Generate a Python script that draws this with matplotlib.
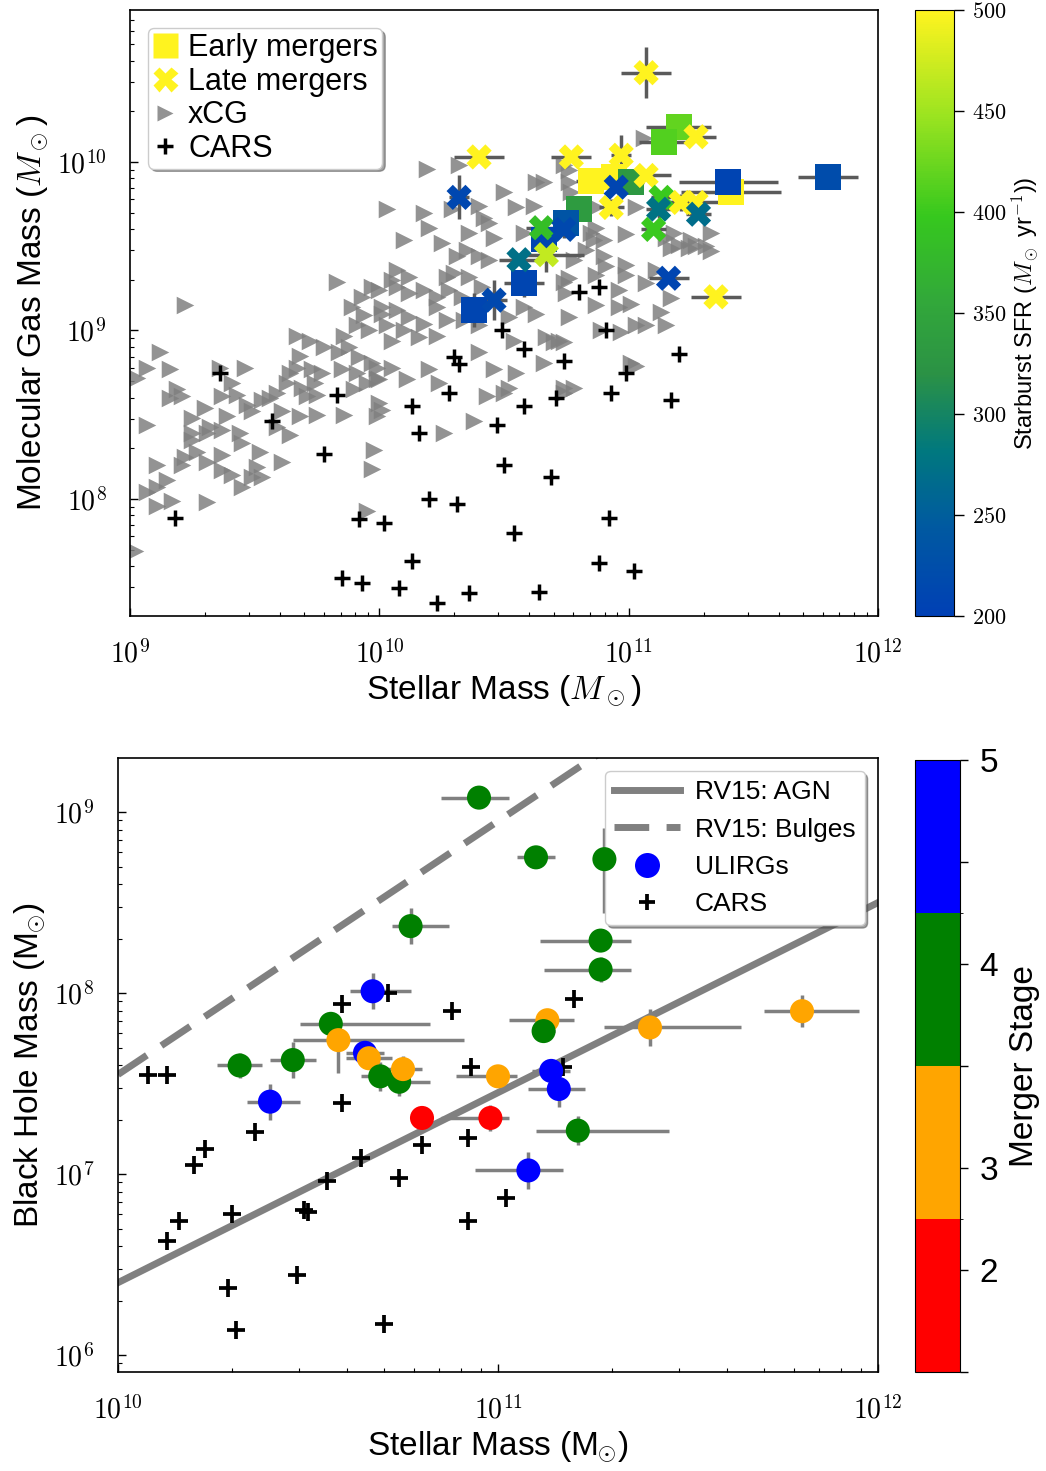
import numpy as np
import matplotlib
matplotlib.use("Agg")
import matplotlib.pyplot as plt
from matplotlib.colors import LinearSegmentedColormap, ListedColormap, BoundaryNorm, Normalize
from matplotlib.lines import Line2D
from matplotlib.ticker import FuncFormatter, LogLocator, NullFormatter

plt.rcParams['font.family'] = ['Liberation Sans', 'DejaVu Sans']
plt.rcParams['mathtext.fontset'] = 'cm'

# ---------------- top panel: molecular gas vs stellar mass (log10 values) ----------------
# xCG comparison sample
xcg_mstar = [9.22, 9.67, 9.12, 9.07, 9.16, 9.03, 9.46, 9.36, 9.41, 9.19, 9.16, 9.21, 9.37, 9.43,
             9.30, 9.47, 9.49, 9.53, 9.56, 9.59, 9.64, 9.67, 9.63, 9.69, 9.73, 9.77, 9.74, 9.71,
             9.75, 9.68, 9.75, 9.61, 9.64, 9.59, 9.84, 9.88, 9.92, 9.85, 9.91, 9.99, 9.95, 9.90,
             9.99, 10.01, 9.86, 9.91, 9.93, 9.97, 9.83, 10.01, 9.07, 9.25, 9.32, 9.39, 9.25, 9.37,
             9.31, 9.44, 9.25, 9.45, 9.22, 9.27, 9.31, 9.37, 9.37, 9.41, 9.51, 9.53, 9.49, 9.52,
             9.61, 9.45, 9.21, 9.11, 9.15, 9.07, 9.11, 9.11, 9.17, 9.31, 9.98, 9.97, 9.95, 9.02,
             10.19, 10.32, 10.03, 10.18, 10.20, 10.10, 10.25, 10.29, 10.40, 10.42, 10.44, 10.36,
             10.46, 10.35, 10.31, 10.40, 10.44, 10.50, 10.55, 10.63, 10.66, 10.62, 10.58, 10.07,
             10.12, 10.27, 10.30, 10.36, 10.41, 10.05, 10.00, 10.07, 10.12, 10.18, 10.23, 10.28,
             10.33, 10.01, 10.07, 10.12, 10.18, 10.23, 10.27, 10.10, 10.05, 10.16, 10.23, 10.34,
             10.40, 10.52, 10.58, 10.63, 10.67, 10.72, 10.75, 10.54, 9.97, 10.00, 10.05, 10.11,
             10.20, 10.24, 10.40, 10.46, 10.55, 10.52, 10.43, 10.50, 10.66, 10.70, 10.74, 10.00,
             9.99, 10.38, 10.26, 10.76, 10.76, 10.77, 10.87, 11.03, 10.87, 10.99, 10.83, 10.86,
             10.90, 10.78, 10.91, 10.99, 10.99, 11.07, 11.11, 11.15, 11.20, 11.24, 11.31, 11.33,
             11.33, 11.17, 10.74, 10.76, 10.87, 10.96, 10.96, 11.01, 10.87, 10.76, 11.13, 11.17,
             10.97, 11.03, 11.07, 11.15, 10.89, 10.74, 11.01, 11.03, 10.78, 10.74, 11.06, 10.74,
             11.27, 11.25, 11.18, 10.85, 10.90, 9.72, 9.78, 9.68, 9.94, 9.96, 9.89, 10.03, 9.86]
xcg_mgas = [9.15, 8.97, 8.87, 8.78, 8.77, 8.72, 8.78, 8.78, 8.69, 8.65, 8.60, 8.61, 8.61, 8.62,
            8.54, 8.56, 8.52, 8.59, 8.60, 8.63, 8.75, 8.78, 8.69, 8.66, 8.77, 8.75, 8.69, 8.61,
            8.62, 8.49, 8.50, 8.52, 8.38, 8.43, 8.87, 8.90, 8.84, 8.77, 8.75, 8.78, 8.69, 8.65,
            8.71, 8.53, 8.50, 9.03, 9.20, 9.26, 9.29, 9.10, 8.44, 8.48, 8.43, 8.49, 8.39, 8.41,
            8.39, 8.39, 8.35, 8.33, 8.25, 8.28, 8.22, 8.26, 8.17, 8.14, 8.19, 8.13, 8.13, 8.28,
            8.22, 8.07, 8.20, 8.20, 8.11, 8.04, 8.07, 7.96, 7.99, 7.98, 8.29, 8.18, 7.93, 7.69,
            9.96, 9.98, 9.72, 9.70, 9.61, 9.54, 9.52, 9.72, 9.74, 9.67, 9.64, 9.58,
            9.55, 9.48, 9.44, 9.44, 9.42, 9.82, 9.73, 9.88, 9.88, 9.74, 9.58, 9.36,
            9.32, 9.32, 9.34, 9.32, 9.26, 9.30, 9.24, 9.26, 9.22, 9.24, 9.20, 9.24,
            9.20, 9.14, 9.12, 9.08, 9.04, 9.14, 9.06, 9.00, 8.94, 8.96, 8.97, 9.06,
            9.03, 9.08, 9.14, 9.10, 8.96, 8.94, 9.22, 8.94, 8.81, 8.71, 8.78, 8.71,
            8.77, 8.69, 8.87, 8.77, 8.75, 8.66, 8.61, 8.63, 8.81, 8.93, 8.66, 8.57,
            8.49, 8.46, 8.39, 9.95, 9.88, 9.82, 9.73, 9.73, 9.61, 9.57, 9.48, 9.54,
            9.44, 9.42, 9.38, 9.39, 9.33, 9.28, 9.36, 9.55, 9.51, 9.49, 9.50, 9.58,
            9.47, 9.49, 9.29, 9.31, 9.33, 9.24, 9.14, 9.16, 9.15, 9.08, 9.11, 9.19,
            8.99, 9.03, 9.03, 9.03, 9.00, 8.93, 8.81, 8.79, 8.66, 8.63, 10.14, 9.98,
            9.50, 9.54, 9.58, 9.58, 9.54, 8.94, 8.90, 8.85, 9.09, 9.00, 9.14, 9.03, 8.97]

# CARS in the gas plane
cars_mstar_gas = [9.36, 9.83, 9.57, 9.78, 9.18, 10.13, 10.16, 10.28, 10.30, 10.32, 10.49, 10.58,
                  10.74, 10.91, 11.20, 10.99, 10.58, 10.71, 10.93, 11.17, 10.47, 10.50, 10.69,
                  10.20, 10.31, 9.92, 10.02, 10.54, 10.92, 10.13, 10.88, 11.02, 9.85, 9.93,
                  10.08, 10.23, 10.36, 10.64, 10.80, 10.88]
cars_mgas = [8.75, 8.62, 8.46, 8.27, 7.89, 8.55, 8.39, 8.63, 8.84, 8.80, 9.00, 8.89,
             8.82, 9.00, 8.86, 8.75, 8.55, 8.60, 8.63, 8.59, 8.44, 8.20, 8.13,
             8.00, 7.97, 7.88, 7.86, 7.80, 7.89, 7.63, 7.62, 7.57, 7.53, 7.50,
             7.47, 7.38, 7.44, 7.45, 9.23, 9.26]

# early mergers: log M*, log Mgas, SFR, x error (dex), y error (dex)
early_mstar = [11.20, 11.14, 10.85, 10.94, 11.01, 10.80, 10.75, 10.66, 10.58, 10.38, 11.41, 11.40, 11.80]
early_mgas = [10.21, 10.12, 9.89, 9.91, 9.88, 9.72, 9.64, 9.54, 9.28, 9.12, 9.82, 9.88, 9.91]
early_sfr = [420, 412, 500, 500, 330, 335, 235, 210, 210, 210, 500, 208, 222]
early_xerr = [0.13, 0.10, 0.06, 0.06, 0.05, 0.05, 0.04, 0.04, 0.08, 0.04, 0.20, 0.20, 0.12]
early_yerr = [0.03, 0.03, 0.03, 0.00, 0.05, 0.07, 0.05, 0.05, 0.08, 0.10, 0.05, 0.05, 0.06]

late_mstar = [11.07, 11.27, 10.40, 10.77, 10.97, 11.07, 10.95, 10.93, 10.32, 11.21, 11.27,
              11.13, 11.12, 11.28, 11.10, 10.65, 10.74, 10.67, 10.56, 11.16, 11.35, 10.46]
late_mgas = [10.53, 10.15, 10.03, 10.03, 10.04, 9.92, 9.85, 9.73, 9.79, 9.76, 9.76,
             9.79, 9.72, 9.69, 9.60, 9.61, 9.60, 9.45, 9.42, 9.31, 9.20, 9.18]
late_sfr = [500, 500, 500, 500, 500, 500, 210, 500, 212, 500, 500,
            400, 275, 268, 400, 385, 215, 468, 272, 210, 500, 215]
late_xerr = [0.10, 0.08, 0.10, 0.08, 0.04, 0.10, 0.03, 0.05, 0.04, 0.06, 0.10,
             0.04, 0.05, 0.05, 0.05, 0.06, 0.05, 0.15, 0.08, 0.08, 0.10, 0.05]
late_yerr = [0.15, 0.02, 0.00, 0.02, 0.12, 0.02, 0.03, 0.05, 0.13, 0.05, 0.03,
             0.03, 0.05, 0.03, 0.02, 0.04, 0.05, 0.10, 0.03, 0.02, 0.02, 0.12]

# ---------------- bottom panel: black hole vs stellar mass (log10 values) ----------------
ulirg_mstar = [10.95, 10.77, 11.10, 11.28, 11.27, 11.27, 10.56, 10.32, 10.46, 10.58,
               10.65, 10.66, 10.69, 10.74, 10.75, 11.00, 11.13, 11.12, 11.40, 11.80,
               10.67, 10.40, 11.14, 11.16, 11.08, 11.21, 10.80, 10.98]
ulirg_mbh = [9.08, 8.37, 8.75, 8.74, 8.29, 8.13, 7.83, 7.60, 7.63, 7.74,
             7.67, 7.64, 7.54, 7.51, 7.58, 7.54, 7.85, 7.79, 7.81, 7.90,
             8.01, 7.40, 7.57, 7.47, 7.02, 7.24, 7.31, 7.31]
ulirg_stage = [4, 4, 4, 4, 4, 4, 4, 4, 4, 3,
               5, 3, 4, 4, 3, 3, 3, 4, 3, 3,
               5, 5, 5, 5, 5, 4, 2, 2]
ulirg_xlo = [0.10, 0.05, 0.05, 0.01, 0.16, 0.15, 0.08, 0.06, 0.06, 0.12,
             0.05, 0.06, 0.05, 0.05, 0.05, 0.11, 0.10, 0.03, 0.12, 0.10,
             0.06, 0.06, 0.05, 0.08, 0.14, 0.11, 0.00, 0.13]
ulirg_xhi = [0.08, 0.10, 0.05, 0.01, 0.08, 0.08, 0.26, 0.06, 0.06, 0.33,
             0.05, 0.06, 0.05, 0.08, 0.05, 0.05, 0.07, 0.03, 0.24, 0.15,
             0.10, 0.08, 0.05, 0.07, 0.09, 0.24, 0.00, 0.05]
ulirg_ylo = [0.00, 0.10, 0.06, 0.30, 0.04, 0.07, 0.05, 0.07, 0.10, 0.18,
             0.05, 0.05, 0.08, 0.08, 0.07, 0.06, 0.05, 0.05, 0.10, 0.09,
             0.10, 0.10, 0.05, 0.10, 0.10, 0.08, 0.05, 0.07]
ulirg_yhi = [0.00, 0.10, 0.06, 0.17, 0.04, 0.07, 0.05, 0.07, 0.10, 0.00,
             0.05, 0.05, 0.08, 0.08, 0.07, 0.06, 0.05, 0.05, 0.10, 0.09,
             0.10, 0.10, 0.05, 0.10, 0.10, 0.08, 0.05, 0.07]

cars_mstar_bh = [10.08, 10.13, 10.20, 10.23, 10.36, 10.59, 10.64, 10.55, 10.74, 10.80, 10.92,
                 11.02, 10.92, 10.16, 10.13, 10.30, 10.49, 10.50, 10.47, 10.29, 10.31, 10.70,
                 10.59, 10.71, 10.88, 11.20, 10.93, 11.17]
cars_mbh = [7.55, 7.55, 7.05, 7.14, 7.23, 7.39, 7.09, 6.96, 6.98, 7.16, 7.20,
            6.87, 6.74, 6.74, 6.63, 6.78, 6.80, 6.79, 6.44, 6.37, 6.14, 6.17,
            7.94, 8.00, 7.90, 7.97, 7.59, 7.59]

# Reines & Volonteri (2015) scaling relations: log MBH = a + b log(M*/1e11)
rv15_agn = (7.45, 1.05)
rv15_bulge = (8.95, 1.40)


def dex_to_lin(logv, lo, hi):
    logv, lo, hi = np.asarray(logv), np.asarray(lo), np.asarray(hi)
    v = 10**logv
    return np.vstack([v - 10**(logv - lo), 10**(logv + hi) - v])


def pow_label(val, pos):
    return r'$10^{%d}$' % int(round(np.log10(val)))


def style_log_axes(ax):
    for axis in (ax.xaxis, ax.yaxis):
        axis.set_major_locator(LogLocator(base=10))
        axis.set_minor_locator(LogLocator(base=10, subs=np.arange(2, 10)))
        axis.set_major_formatter(FuncFormatter(pow_label))
        axis.set_minor_formatter(NullFormatter())
    ax.tick_params(which='both', direction='in', top=False, right=False)
    ax.tick_params(which='major', length=6, width=1, labelsize=20, pad=17)
    ax.tick_params(which='minor', length=3, width=0.8)
    for s in ax.spines.values():
        s.set_linewidth(1.2)


sfr_cmap = LinearSegmentedColormap.from_list(
    'sfr', [(0.0, '#0040b5'), (0.15, '#005aa0'), (0.27, '#00787f'), (0.40, '#2b9245'),
            (0.52, '#32a83a'), (0.66, '#36c81e'), (0.83, '#9de420'), (1.0, '#fff31f')])
sfr_norm = Normalize(200, 500)

stage_cmap = ListedColormap(['red', 'orange', 'green', 'blue'])
stage_norm = BoundaryNorm([1.5, 2.5, 3.5, 4.5, 5.5], stage_cmap.N)

fig = plt.figure(figsize=(10.46, 14.71), dpi=100)

# ---- top panel ----
ax1 = fig.add_axes([0.1243, 0.5812, 0.7151, 0.4120])
ax1.set_xscale('log')
ax1.set_yscale('log')

ax1.scatter(10**np.array(xcg_mstar), 10**np.array(xcg_mgas), marker='>', s=160,
            color='gray', alpha=0.85, linewidths=0, zorder=2)
ax1.scatter(10**np.array(cars_mstar_gas), 10**np.array(cars_mgas), marker='+', s=130,
            color='black', linewidths=2.5, zorder=3)

ax1.errorbar(10**np.array(early_mstar), 10**np.array(early_mgas),
             xerr=dex_to_lin(early_mstar, early_xerr, early_xerr),
             yerr=dex_to_lin(early_mgas, early_yerr, early_yerr),
             fmt='none', ecolor='#5a5a5a', elinewidth=2.5, zorder=4)
ax1.errorbar(10**np.array(late_mstar), 10**np.array(late_mgas),
             xerr=dex_to_lin(late_mstar, late_xerr, late_xerr),
             yerr=dex_to_lin(late_mgas, late_yerr, late_yerr),
             fmt='none', ecolor='#5a5a5a', elinewidth=2.5, zorder=4)
sc_early = ax1.scatter(10**np.array(early_mstar), 10**np.array(early_mgas), marker='s', s=350,
                       c=early_sfr, cmap=sfr_cmap, norm=sfr_norm, linewidths=0, zorder=5)
ax1.scatter(10**np.array(late_mstar), 10**np.array(late_mgas), marker='X', s=330,
            c=late_sfr, cmap=sfr_cmap, norm=sfr_norm, linewidths=0, zorder=6)

ax1.set_xlim(1e9, 1e12)
ax1.set_ylim(2.02e7, 7.98e10)
style_log_axes(ax1)
ax1.set_xlabel(r'Stellar Mass ($M_\odot$)', fontsize=24)
ax1.set_ylabel(r'Molecular Gas Mass ($M_\odot$)', fontsize=24)

yellow = sfr_cmap(1.0)
handles_top = [
    Line2D([], [], ls='none', marker='s', ms=18, mfc=yellow, mec='none', label='Early mergers'),
    Line2D([], [], ls='none', marker='X', ms=18, mfc=yellow, mec='none', label='Late mergers'),
    Line2D([], [], ls='none', marker='>', ms=11, mfc='gray', mec='none', alpha=0.85, label='xCG'),
    Line2D([], [], ls='none', marker='+', ms=11, mec='black', mew=2.5, label='CARS'),
]
ax1.legend(handles=handles_top, loc='upper left', fontsize=22, shadow=True, fancybox=True,
           handletextpad=0.35, labelspacing=0.12, borderpad=0.15, handlelength=0.8,
           borderaxespad=0.6, framealpha=1)

cax1 = fig.add_axes([0.8748, 0.5812, 0.0373, 0.4120])
cb1 = fig.colorbar(sc_early, cax=cax1)
cb1.set_ticks([200, 250, 300, 350, 400, 450, 500])
cb1.set_ticklabels([r'$%d$' % v for v in [200, 250, 300, 350, 400, 450, 500]])
cb1.ax.tick_params(labelsize=16, length=7, width=1, pad=6)
cb1.set_label(r'Starburst SFR ($M_\odot$ yr$^{-1}$))', fontsize=17, labelpad=2)

# ---- bottom panel ----
ax2 = fig.add_axes([0.1128, 0.0673, 0.7266, 0.4174])
ax2.set_xscale('log')
ax2.set_yscale('log')

mgrid = np.logspace(10, 12, 200)
ax2.plot(mgrid, 10**(rv15_agn[0] + rv15_agn[1] * np.log10(mgrid / 1e11)),
         color='gray', lw=5, zorder=2, label='RV15: AGN')
ax2.plot(mgrid, 10**(rv15_bulge[0] + rv15_bulge[1] * np.log10(mgrid / 1e11)),
         color='gray', lw=5, ls=(0, (5, 2.5)), zorder=2, label='RV15: Bulges')

ax2.errorbar(10**np.array(ulirg_mstar), 10**np.array(ulirg_mbh),
             xerr=dex_to_lin(ulirg_mstar, ulirg_xlo, ulirg_xhi),
             yerr=dex_to_lin(ulirg_mbh, ulirg_ylo, ulirg_yhi),
             fmt='none', ecolor='gray', elinewidth=2.5, zorder=3)
ax2.scatter(10**np.array(cars_mstar_bh), 10**np.array(cars_mbh), marker='+', s=150,
            color='black', linewidths=2.7, zorder=4, label='CARS')
# circles sit above the legend box
sc_stage = ax2.scatter(10**np.array(ulirg_mstar), 10**np.array(ulirg_mbh), marker='o', s=300,
                       c=ulirg_stage, cmap=stage_cmap, norm=stage_norm, linewidths=0, zorder=6)

ax2.set_xlim(1e10, 1e12)
ax2.set_ylim(8.06e5, 1.99e9)
style_log_axes(ax2)
ax2.set_xlabel(r'Stellar Mass (M$_{\!\!\odot}\!$)', fontsize=24)
ax2.set_ylabel(r'Black Hole Mass (M$_{\!\!\odot}\!$)', fontsize=24)

handles_bot = [
    Line2D([], [], color='gray', lw=5, label='RV15: AGN'),
    Line2D([], [], color='gray', lw=5, ls=(0, (5, 2.5)), label='RV15: Bulges'),
    Line2D([], [], ls='none', marker='o', ms=18, mfc='blue', mec='none', label='ULIRGs'),
    Line2D([], [], ls='none', marker='+', ms=12, mec='black', mew=2.7, label='CARS'),
]
ax2.legend(handles=handles_bot, loc='upper right', fontsize=19, shadow=True, fancybox=True,
           handlelength=2.5, handletextpad=0.55, labelspacing=0.5, borderpad=0.35,
           borderaxespad=0.5, framealpha=1)

cax2 = fig.add_axes([0.8748, 0.0673, 0.043, 0.4161])
cb2 = fig.colorbar(sc_stage, cax=cax2)
cb2.set_ticks(np.linspace(1.5, 5.5, 7))
cb2.set_ticklabels(['', '2', '3', '', '4', '', '5'])
cb2.ax.tick_params(labelsize=24, length=6, width=1, pad=8)
cb2.set_label('Merger Stage', fontsize=24, labelpad=8)

fig.savefig('out.png', dpi=100)
